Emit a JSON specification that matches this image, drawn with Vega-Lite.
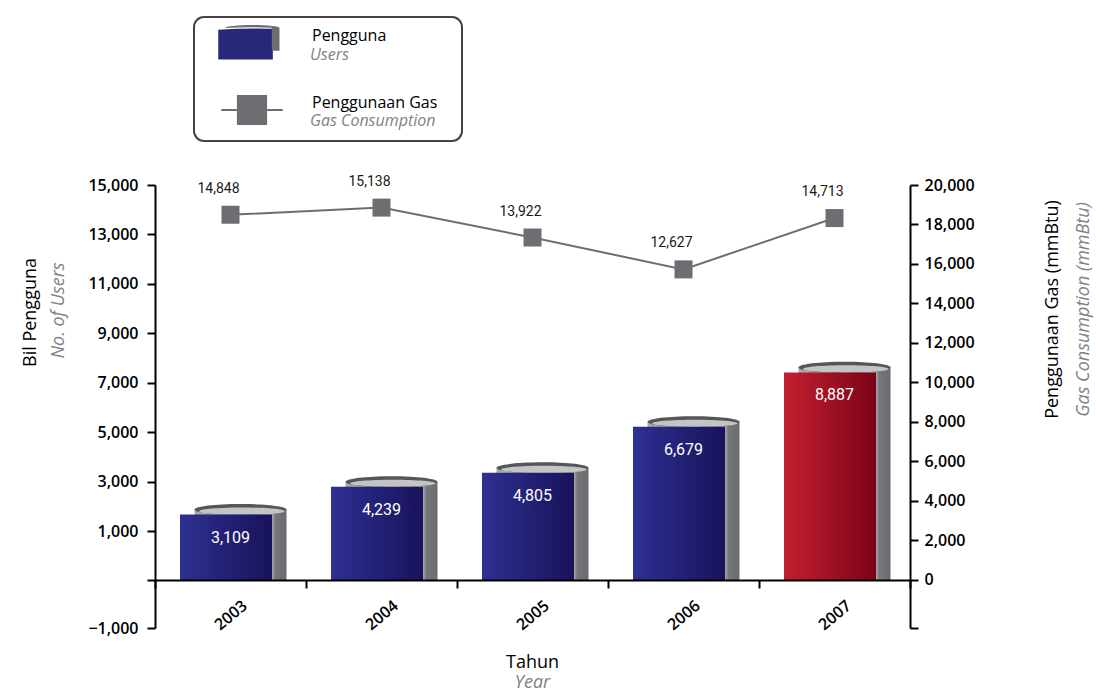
{
  "$schema": "https://vega.github.io/schema/vega-lite/v6.json",
  "width": 755,
  "height": 443,
  "autosize": "none",
  "padding": {"left": 155, "top": 185, "right": 186, "bottom": 67},
  "background": "white",
  "config": {"font": "Open Sans", "view": {"stroke": null}},
  "datasets": {
    "main": [
      {"year": "2003", "users": 3109, "gas": 14848},
      {"year": "2004", "users": 4239, "gas": 15138},
      {"year": "2005", "users": 4805, "gas": 13922},
      {"year": "2006", "users": 6679, "gas": 12627},
      {"year": "2007", "users": 8887, "gas": 14713}
    ],
    "legend": [
      {"series": "Pengguna", "sub": "Users"},
      {"series": "Penggunaan Gas", "sub": "Gas Consumption"}
    ]
  },
  "data": {"name": "main"},
  "title": {
    "text": "Tahun",
    "subtitle": "Year",
    "orient": "bottom",
    "anchor": "middle",
    "offset": 18,
    "font": "Open Sans",
    "fontSize": 18,
    "fontWeight": "normal",
    "color": "black",
    "subtitleFont": "Open Sans",
    "subtitleFontSize": 18,
    "subtitleFontStyle": "italic",
    "subtitleColor": "#808285",
    "subtitlePadding": 2
  },
  "resolve": {"scale": {"y": "independent"}},
  "layer": [
    {
      "mark": {"type": "point", "opacity": 0},
      "encoding": {
        "y": {
          "field": "users",
          "type": "quantitative",
          "scale": {"domain": [-1000, 0, 1000, 15000], "range": [443, 395, 346, 0], "nice": false, "zero": false},
          "axis": {
            "orient": "left",
            "zindex": 1,
            "grid": false,
            "values": [-1000, 0, 1000, 3000, 5000, 7000, 9000, 11000, 13000, 15000],
            "labelExpr": "datum.value == 0 ? '' : format(datum.value, ',')",
            "domainColor": "black",
            "domainWidth": 2,
            "tickColor": "black",
            "tickWidth": 2,
            "tickSize": 8,
            "labelPadding": 9,
            "labelFont": "Open Sans",
            "labelFontSize": 16,
            "labelFontWeight": 600,
            "labelColor": "black",
            "title": "Bil Pengguna",
            "titleX": -120,
            "titleY": 127,
            "titleAngle": -90,
            "titleAlign": "center",
            "titleBaseline": "alphabetic",
            "titleFont": "Open Sans",
            "titleFontSize": 18,
            "titleFontWeight": "normal",
            "titleColor": "black"
          }
        }
      }
    },
    {
      "mark": {"type": "point", "opacity": 0},
      "encoding": {
        "y": {
          "field": "gas",
          "type": "quantitative",
          "scale": {"domain": [-2430.4, 20000], "nice": false, "zero": false},
          "axis": {
            "orient": "right",
            "zindex": 1,
            "grid": false,
            "values": [-2430.4, 0, 2000, 4000, 6000, 8000, 10000, 12000, 14000, 16000, 18000, 20000],
            "labelExpr": "datum.value < 0 ? '' : format(datum.value, ',')",
            "domainColor": "black",
            "domainWidth": 2,
            "tickColor": "black",
            "tickWidth": 2,
            "tickSize": 8,
            "labelPadding": 6,
            "labelFont": "Open Sans",
            "labelFontSize": 16,
            "labelFontWeight": 600,
            "labelColor": "black",
            "title": "Penggunaan Gas (mmBtu)",
            "titleX": 147,
            "titleY": 124,
            "titleAngle": -90,
            "titleAlign": "center",
            "titleBaseline": "alphabetic",
            "titleFont": "Open Sans",
            "titleFontSize": 18,
            "titleFontWeight": "normal",
            "titleColor": "black"
          }
        }
      }
    },
    {
      "mark": {
        "type": "bar",
        "width": 92,
        "xOffset": 10,
        "yOffset": 6,
        "fill": {
          "gradient": "linear", "x1": 0, "y1": 0, "x2": 1, "y2": 0,
          "stops": [
            {"offset": 0, "color": "#a9aaad"},
            {"offset": 0.84, "color": "#a9aaad"},
            {"offset": 0.88, "color": "#76777a"},
            {"offset": 1, "color": "#6a6b6e"}
          ]
        }
      },
      "encoding": {
        "x": {
          "field": "year",
          "type": "ordinal",
          "scale": {"paddingInner": 0, "paddingOuter": 0},
          "axis": {
            "title": null,
            "orient": "bottom",
            "offset": -48,
            "zindex": 1,
            "domainColor": "black",
            "domainWidth": 2,
            "tickColor": "black",
            "tickWidth": 2,
            "tickSize": 8,
            "tickBand": "extent",
            "labelAngle": -40,
            "labelAlign": "center",
            "labelBaseline": "middle",
            "labelPadding": 27,
            "labelFont": "Open Sans",
            "labelFontSize": 16,
            "labelFontWeight": 600,
            "labelColor": "black"
          }
        },
        "y": {
          "field": "users",
          "type": "quantitative",
          "scale": {"domain": [-1951, 16057], "nice": false, "zero": false},
          "axis": {
            "orient": "left",
            "grid": false,
            "labels": false,
            "ticks": false,
            "domain": false,
            "title": "No. of Users",
            "titleX": -92,
            "titleY": 125,
            "titleAngle": -90,
            "titleAlign": "center",
            "titleBaseline": "alphabetic",
            "titleFont": "Open Sans",
            "titleFontSize": 18,
            "titleFontStyle": "italic",
            "titleFontWeight": "normal",
            "titleColor": "#808285"
          }
        },
        "y2": {"datum": 0}
      }
    },
    {
      "mark": {
        "type": "point",
        "shape": "M-1,0 A1,0.12 0 1,1 1,0 A1,0.12 0 1,1 -1,0 Z",
        "size": 8464,
        "filled": true,
        "opacity": 1,
        "strokeWidth": 0,
        "xOffset": 10,
        "yOffset": 6,
        "fill": "#555658"
      },
      "encoding": {
        "x": {"field": "year", "type": "ordinal"},
        "y": {"field": "users", "type": "quantitative", "scale": {"domain": [-1951, 16057], "nice": false, "zero": false}, "axis": null}
      }
    },
    {
      "mark": {
        "type": "point",
        "shape": "M-0.9,0.035 A0.93,0.08 0 1,1 0.96,0.035 A0.93,0.08 0 1,1 -0.9,0.035 Z",
        "size": 8464,
        "filled": true,
        "opacity": 1,
        "strokeWidth": 0,
        "xOffset": 10,
        "yOffset": 6,
        "fill": "#c3c4c6"
      },
      "encoding": {
        "x": {"field": "year", "type": "ordinal"},
        "y": {"field": "users", "type": "quantitative", "scale": {"domain": [-1951, 16057], "nice": false, "zero": false}, "axis": null}
      }
    },
    {
      "mark": {"type": "bar", "width": 92, "xOffset": -4.5, "yOffset": 11},
      "encoding": {
        "x": {"field": "year", "type": "ordinal"},
        "y": {"field": "users", "type": "quantitative", "scale": {"domain": [-1951, 16057], "nice": false, "zero": false}, "axis": null},
        "y2": {"datum": 0},
        "fill": {
          "condition": {
            "test": "datum.year == '2007'",
            "value": {
              "gradient": "linear", "x1": 0, "y1": 0, "x2": 1, "y2": 0,
              "stops": [{"offset": 0, "color": "#c41f31"}, {"offset": 1, "color": "#7a0416"}]
            }
          },
          "value": {
            "gradient": "linear", "x1": 0, "y1": 0, "x2": 1, "y2": 0,
            "stops": [{"offset": 0, "color": "#2e3092"}, {"offset": 1, "color": "#19135b"}]
          }
        }
      }
    },
    {
      "mark": {"type": "text", "font": "Roboto", "fontSize": 16, "color": "white", "dy": 39, "align": "center", "baseline": "alphabetic"},
      "encoding": {
        "x": {"field": "year", "type": "ordinal"},
        "y": {"field": "users", "type": "quantitative", "scale": {"domain": [-1951, 16057], "nice": false, "zero": false}, "axis": null},
        "text": {"field": "users", "type": "quantitative", "format": ","}
      }
    },
    {
      "mark": {"type": "line", "color": "#6d6e71", "strokeWidth": 2},
      "encoding": {
        "x": {"field": "year", "type": "ordinal"},
        "y": {
          "field": "gas",
          "type": "quantitative",
          "scale": {"domain": [-1951, 16057], "nice": false, "zero": false},
          "axis": {
            "orient": "right",
            "grid": false,
            "labels": false,
            "ticks": false,
            "domain": false,
            "title": "Gas Consumption (mmBtu)",
            "titleX": 178,
            "titleY": 124,
            "titleAngle": -90,
            "titleAlign": "center",
            "titleBaseline": "alphabetic",
            "titleFont": "Open Sans",
            "titleFontSize": 18,
            "titleFontStyle": "italic",
            "titleFontWeight": "normal",
            "titleColor": "#808285"
          }
        }
      }
    },
    {
      "mark": {"type": "square", "size": 324, "color": "#6d6e71", "filled": true, "opacity": 1},
      "encoding": {
        "x": {"field": "year", "type": "ordinal"},
        "y": {"field": "gas", "type": "quantitative", "scale": {"domain": [-1951, 16057], "nice": false, "zero": false}, "axis": null}
      }
    },
    {
      "mark": {"type": "text", "font": "Roboto", "fontSize": 14, "color": "#1a1a1a", "dx": -12, "dy": -22, "align": "center", "baseline": "alphabetic"},
      "encoding": {
        "x": {"field": "year", "type": "ordinal"},
        "y": {"field": "gas", "type": "quantitative", "scale": {"domain": [-1951, 16057], "nice": false, "zero": false}, "axis": null},
        "text": {"field": "gas", "type": "quantitative", "format": ","}
      }
    },
    {
      "data": {"name": "legend"},
      "mark": {"type": "point", "opacity": 0, "filled": true},
      "encoding": {
        "fill": {
          "field": "series",
          "type": "nominal",
          "scale": {"domain": ["Pengguna", "Penggunaan Gas"], "range": ["#27287a", "#6d6e71"]},
          "legend": {
            "orient": "none", "legendX": 39, "legendY": -168, "title": null,
            "padding": 10, "fillColor": "white", "strokeColor": "#4a4040", "cornerRadius": 10,
            "symbolSize": 900, "symbolOffset": 32, "symbolOpacity": 1, "symbolStrokeWidth": 2,
            "labelOffset": 44, "labelFont": "Open Sans", "labelFontSize": 16, "labelColor": "black",
            "labelBaseline": "middle", "labelLimit": 500, "rowPadding": 28,
            "labelExpr": "[datum.label, ' ']",
            "encode": {
              "legend": {"update": {"strokeWidth": {"value": 2}}},
              "labels": {"update": {"dy": {"value": -7}, "lineHeight": {"value": 20}}},
              "symbols": {"update": {"fill": [
                {"test": "datum.value === 'Pengguna'", "value": {"gradient": "linear", "x1": 0, "y1": 0, "x2": 1, "y2": 0, "stops": [{"offset": 0, "color": "#2e3092"}, {"offset": 1, "color": "#19135b"}]}},
                {"value": "#6d6e71"}
              ]}}
            }
          }
        },
        "shape": {
          "field": "series",
          "type": "nominal",
          "scale": {"domain": ["Pengguna", "Penggunaan Gas"], "range": [
            "M-2.25,-0.88 Q-0.4,-1.02 1.39,-0.95 L1.39,1.1 L-2.25,1.1 Z",
            "M-2.05,0 L-0.94,0 M0.94,0 L2.05,0 M-0.94,-0.93 L0.94,-0.93 L0.94,0.93 L-0.94,0.93 Z M13.05,0"
          ]},
          "legend": {
            "orient": "none", "legendX": 39, "legendY": -168, "title": null,
            "padding": 10, "fillColor": "white", "strokeColor": "#4a4040", "cornerRadius": 10,
            "symbolSize": 900, "symbolOffset": 32, "symbolOpacity": 1, "symbolStrokeWidth": 2,
            "labelOffset": 44, "labelFont": "Open Sans", "labelFontSize": 16, "labelColor": "black",
            "labelBaseline": "middle", "labelLimit": 500, "rowPadding": 28,
            "labelExpr": "[datum.label, ' ']"
          }
        },
        "stroke": {
          "field": "series",
          "type": "nominal",
          "scale": {"domain": ["Pengguna", "Penggunaan Gas"], "range": ["rgba(0,0,0,0)", "#6d6e71"]},
          "legend": {
            "orient": "none", "legendX": 39, "legendY": -168, "title": null,
            "padding": 10, "fillColor": "white", "strokeColor": "#4a4040", "cornerRadius": 10,
            "symbolSize": 900, "symbolOffset": 32, "symbolOpacity": 1, "symbolStrokeWidth": 2,
            "labelOffset": 44, "labelFont": "Open Sans", "labelFontSize": 16, "labelColor": "black",
            "labelBaseline": "middle", "labelLimit": 500, "rowPadding": 28,
            "labelExpr": "[datum.label, ' ']"
          }
        },
        "strokeDash": {
          "field": "sub",
          "type": "nominal",
          "scale": {"domain": ["Users", "Gas Consumption"], "range": [[1, 0], [1, 0]]},
          "legend": {
            "orient": "none", "legendX": 39, "legendY": -168, "title": null,
            "padding": 10,
            "symbolSize": 900, "symbolOffset": 32, "symbolOpacity": 1, "symbolStrokeWidth": 0,
            "symbolFillColor": "#6d6e71",
            "symbolType": "M-1.72,-0.93 A1.81,0.2 0 0,1 1.9,-0.93 L1.9,0.59 L1.39,0.59 L1.39,-0.95 Q-0.2,-1.02 -1.72,-0.93 Z",
            "labelOffset": 44, "labelFont": "Open Sans", "labelFontSize": 16, "labelFontStyle": "italic",
            "labelColor": "#808285", "labelBaseline": "middle", "labelLimit": 500, "rowPadding": 28,
            "labelExpr": "[' ', datum.label]",
            "encode": {
              "labels": {"update": {"dy": {"value": -7}, "lineHeight": {"value": 20}}},
              "symbols": {"update": {"opacity": [{"test": "datum.value === 'Users'", "value": 1}, {"value": 0}]}}
            }
          }
        }
      }
    }
  ]
}
